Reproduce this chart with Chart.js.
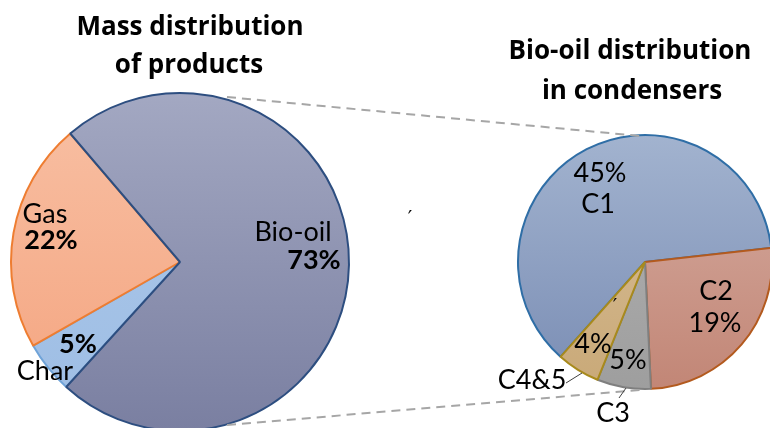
<!DOCTYPE html>
<html>
<head>
<meta charset="utf-8">
<script src="https://cdn.jsdelivr.net/npm/chart.js@4.4.1/dist/chart.umd.min.js"></script>
<style>
  html, body { margin: 0; padding: 0; background: #ffffff; overflow: hidden; width: 770px; height: 428px; }
  #wrap { position: relative; width: 770px; height: 524px; }
  canvas { position: absolute; left: 0; top: 0; }
</style>
</head>
<body>
<div id="wrap">
  <canvas id="left" width="770" height="524"></canvas>
  <canvas id="right" width="770" height="524"></canvas>
</div>
<script>
// ---------- data ----------
const leftLabels = ['Char', 'Gas', 'Bio-oil'];
const leftValues = [5, 22, 73];
const rightLabels = ['C1', 'C2', 'C3', 'C4&5'];
const rightValues = [45, 19, 5, 4];
const leftTitle = ['Mass distribution', 'of products'];
const rightTitle = ['Bio-oil distribution', 'in condensers'];

// ---------- styles ----------
const FONT = 'Lato, "Liberation Sans", sans-serif';
const TITLE_FONT = 'bold 26px "Open Sans", "Liberation Sans", sans-serif';
const LABEL_SIZE = '27px ';
const leftFill = [['#aec9ea', '#9dbde4'], ['#f8c0a4', '#f4a37e'], ['#a3a8c2', '#7a7fa1']];
const leftBorder = ['#6fa3d8', '#ee7d31', '#2d4e80'];
const rightFill = [['#a2b3cf', '#7a8db4'], ['#d6ada2', '#c28676'], ['#b3b3b3', '#9e9e9e'], ['#d9c09a', '#c9a978']];
const rightBorder = ['#2f6ea6', '#b35a1e', '#7f7f7f', '#a88a1c'];

function gradFill(fills) {
  return (ctx) => {
    const chart = ctx.chart;
    const pair = fills[ctx.dataIndex];
    if (!chart.chartArea) return pair[0];
    const cy = (chart.chartArea.top + chart.chartArea.bottom) / 2;
    const r = ctx.dataset.radius;
    const g = chart.ctx.createLinearGradient(0, cy - r, 0, cy + r);
    g.addColorStop(0, pair[0]);
    g.addColorStop(1, pair[1]);
    return g;
  };
}

// label layouts: [text, dx, dy, bold] relative to pie centre (baseline positions)
function leftLabelLayout() {
  return [
    [leftLabels[1], -135, -39, false],
    [leftValues[1] + '%', -129, -13, true],
    [leftLabels[2], 113, -21, false],
    [leftValues[2] + '%', 134, 7, true],
    [leftValues[0] + '%', -102, 91, true],
    [leftLabels[0], -135, 118, false],
  ];
}
function rightLabelLayout() {
  return [
    [rightValues[0] + '%', -45, -80, false],
    [rightLabels[0], -47, -49, false],
    [rightLabels[1], 71, 38, false],
    [rightValues[1] + '%', 70, 70, false],
    [rightValues[2] + '%', -17, 107, false],
    [rightLabels[2], -32, 160, false],
    [rightValues[3] + '%', -52, 91, false],
    [rightLabels[3], -113, 127, false],
  ];
}

function centre(chart) {
  const a = chart.chartArea;
  return [(a.left + a.right) / 2, (a.top + a.bottom) / 2];
}

const leftOverlay = {
  id: 'leftOverlay',
  afterDraw(chart) {
    const ctx = chart.ctx;
    const [cx, cy] = centre(chart);
    ctx.save();
    ctx.fillStyle = '#000';
    ctx.textAlign = 'center';
    ctx.textBaseline = 'alphabetic';
    ctx.font = TITLE_FONT;
    ctx.fillText(leftTitle[0], 190, 35);
    ctx.fillText(leftTitle[1], 189, 73);
    for (const [t, dx, dy, b] of leftLabelLayout()) {
      ctx.font = (b ? 'bold ' : '') + LABEL_SIZE + FONT;
      ctx.fillText(t, cx + dx, cy + dy);
    }
    ctx.restore();
  }
};

const rightOverlay = {
  id: 'rightOverlay',
  afterDraw(chart) {
    const ctx = chart.ctx;
    const [cx, cy] = centre(chart);
    const r = chart.data.datasets[0].radius;
    const lc = leftChart;
    const [lx, ly] = centre(lc);
    const lr = lc.data.datasets[0].radius;
    ctx.save();
    // connector dashed lines from the bio-oil slice to the detail pie
    ctx.strokeStyle = '#a6a6a6';
    ctx.lineWidth = 2;
    ctx.setLineDash([9, 6]);
    ctx.beginPath();
    ctx.moveTo(lx + 47, ly - lr + 4);
    ctx.lineTo(cx - 5, cy - r + 1);
    ctx.moveTo(lx + 47, ly + lr - 6);
    ctx.lineTo(cx - 5, cy + r + 1);
    ctx.stroke();
    ctx.setLineDash([]);
    // leader lines
    ctx.strokeStyle = '#404040';
    ctx.lineWidth = 1;
    ctx.beginPath();
    ctx.moveTo(cx - 79, cy + 121); ctx.lineTo(cx - 63, cy + 111);
    ctx.moveTo(cx - 26, cy + 136); ctx.lineTo(cx - 19, cy + 126);
    ctx.stroke();
    // titles
    ctx.fillStyle = '#000';
    ctx.textAlign = 'center';
    ctx.textBaseline = 'alphabetic';
    ctx.font = TITLE_FONT;
    ctx.fillText(rightTitle[0], 630, 59);
    ctx.fillText(rightTitle[1], 632, 99);
    for (const [t, dx, dy, b] of rightLabelLayout()) {
      ctx.font = (b ? 'bold ' : '') + LABEL_SIZE + FONT;
      ctx.fillText(t, cx + dx, cy + dy);
    }
    // small stray marks seen in the reference
    ctx.font = '20px "DejaVu Sans", sans-serif';
    ctx.fillText('\u2032', 410, 224);
    ctx.fillText('\u2032', cx - 30, cy + 50);
    ctx.restore();
  }
};

const common = {
  responsive: false,
  animation: false,
  events: [],
  plugins: { legend: { display: false }, tooltip: { enabled: false }, title: { display: false } },
};

const leftChart = new Chart(document.getElementById('left'), {
  type: 'pie',
  data: {
    labels: leftLabels,
    datasets: [{
      data: leftValues,
      radius: 169,
      backgroundColor: gradFill(leftFill),
      borderColor: leftBorder,
      borderWidth: 2,
    }]
  },
  options: Object.assign({}, common, {
    rotation: 222.3,
    layout: { padding: { left: 0, right: 410, top: 0, bottom: 0 } },
  }),
  plugins: [leftOverlay]
});

const rightChart = new Chart(document.getElementById('right'), {
  type: 'pie',
  data: {
    labels: rightLabels,
    datasets: [{
      data: rightValues,
      radius: 127,
      backgroundColor: gradFill(rightFill),
      borderColor: rightBorder,
      borderWidth: 2,
    }]
  },
  options: Object.assign({}, common, {
    rotation: -138.3,
    layout: { padding: { left: 520, right: 0, top: 0, bottom: 0 } },
  }),
  plugins: [rightOverlay]
});
</script>
</body>
</html>
